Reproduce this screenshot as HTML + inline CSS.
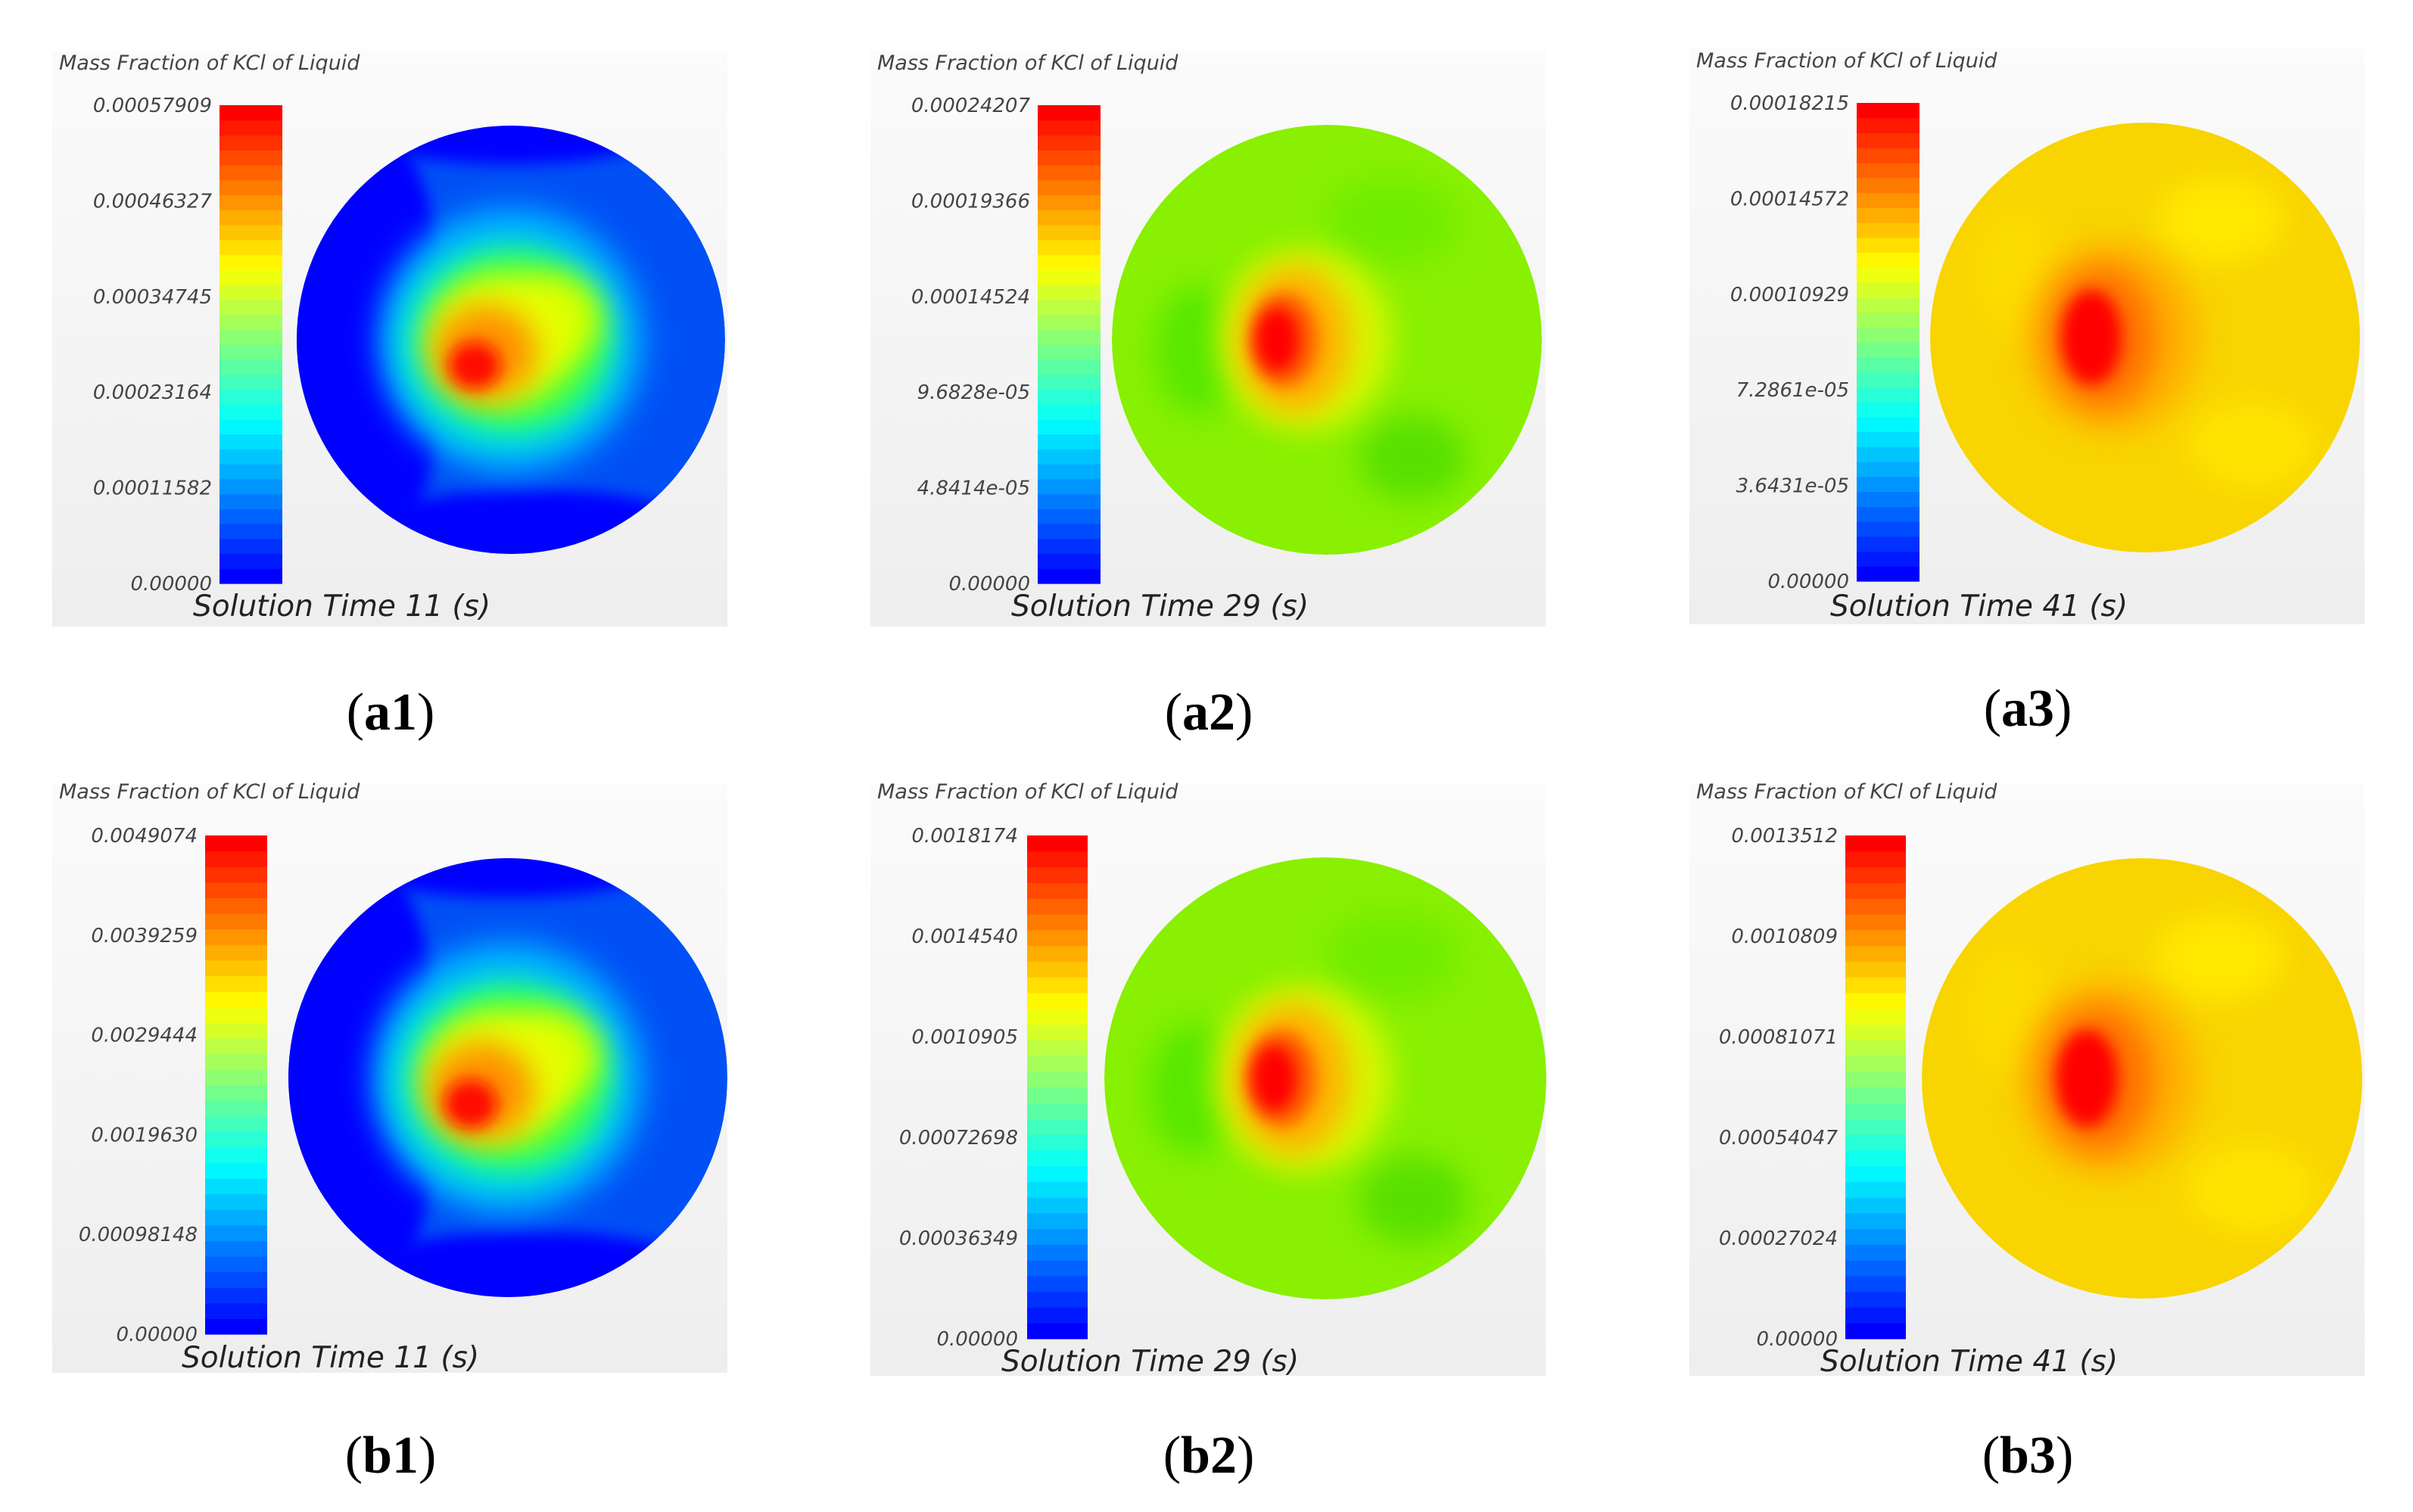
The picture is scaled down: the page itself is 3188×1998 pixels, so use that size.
<!DOCTYPE html>
<html><head><meta charset="utf-8"><style>
html,body{margin:0;padding:0;background:#fff}
body{width:3188px;height:1998px;position:relative;overflow:hidden}
svg{position:absolute;left:0;top:0}
</style></head><body>
<svg id="fig" width="3188" height="1998" viewBox="0 0 3188 1998" xmlns="http://www.w3.org/2000/svg">
<defs>
<linearGradient id="bgg" x1="0" y1="0" x2="0" y2="1"><stop offset="0" stop-color="#fbfbfb"/><stop offset="1" stop-color="#eeeeee"/></linearGradient>
<filter id="bl" x="-50%" y="-50%" width="200%" height="200%"><feGaussianBlur stdDeviation="20"/></filter>
<filter id="bl2" x="-50%" y="-50%" width="200%" height="200%"><feGaussianBlur stdDeviation="10"/></filter>
</defs>
</svg>
<script>
const panelNames=["a1","a2","a3","b1","b2","b3"];
const tickLabels=[
 ["0.00057909","0.00046327","0.00034745","0.00023164","0.00011582","0.00000"],
 ["0.00024207","0.00019366","0.00014524","9.6828e-05","4.8414e-05","0.00000"],
 ["0.00018215","0.00014572","0.00010929","7.2861e-05","3.6431e-05","0.00000"],
 ["0.0049074","0.0039259","0.0029444","0.0019630","0.00098148","0.00000"],
 ["0.0018174","0.0014540","0.0010905","0.00072698","0.00036349","0.00000"],
 ["0.0013512","0.0010809","0.00081071","0.00054047","0.00027024","0.00000"]];
const solutionTimes=[11,29,41,11,29,41];
const fieldType=["blue","green","yellow","blue","green","yellow"];

const NS="http://www.w3.org/2000/svg";
const svg=document.getElementById('fig');
function mk(tag,attrs,parent){const e=document.createElementNS(NS,tag);for(const k in attrs)e.setAttribute(k,attrs[k]);(parent||svg).appendChild(e);return e;}
function jet(t){t=0.125+0.75*t;const r=Math.min(1,Math.max(0,1.5-Math.abs(4*t-3))),g=Math.min(1,Math.max(0,1.5-Math.abs(4*t-2))),b=Math.min(1,Math.max(0,1.5-Math.abs(4*t-1)));return `rgb(${Math.round(r*255)},${Math.round(g*255)},${Math.round(b*255)})`;}
const layers={
 blue:{base:"#0050f5",items:[[-0.75,0,0.45,1.1,"#0000ff","bl2"],[0.1,0.95,0.9,0.25,"#0000ff","bl2"],[0.0,-0.97,0.7,0.15,"#0000ff","bl2"],[0.0,0.0,0.62,0.62,"#00b0ff","bl"],[-0.02,0.02,0.5,0.47,"#00f0d0","bl"],[0.02,0.0,0.42,0.4,"#40ff40","bl"],[0.2,-0.1,0.22,0.2,"#d0ff00","bl"],[-0.05,0.0,0.34,0.3,"#e8ff00","bl"],[-0.12,0.06,0.24,0.22,"#ff9000","bl"],[-0.17,0.12,0.12,0.11,"#ff1000","bl2"]]},
 green:{base:"#88f000",items:[[-0.6,0.05,0.2,0.3,"#58e800","bl"],[0.4,0.55,0.25,0.2,"#58e000","bl"],[0.3,-0.55,0.3,0.2,"#70ec00","bl"],[-0.1,0.0,0.4,0.42,"#d8f800","bl"],[-0.15,0.0,0.26,0.34,"#ffb000","bl"],[-0.2,0.0,0.16,0.22,"#ff6000","bl2"],[-0.23,0.0,0.1,0.15,"#ff0000","bl2"]]},
 yellow:{base:"#f8d400",items:[[0.35,-0.55,0.3,0.2,"#ffe800","bl"],[0.5,0.5,0.3,0.2,"#ffe400","bl"],[-0.6,-0.3,0.2,0.3,"#fcdc00","bl"],[-0.15,0.0,0.4,0.44,"#ffb000","bl"],[-0.2,0.0,0.25,0.33,"#ff7000","bl"],[-0.25,0.0,0.14,0.22,"#ff0000","bl2"]]}
};
const geo=[
 {bx:69,by:67,bw:892,bh:761,cbx:290,cby:139,cbw:83,cbh:632,lx:280,cx:675,cy:449,r:283,ty:92,sy:802,sx:255,lab:940},
 {bx:1150,by:67,bw:892,bh:761,cbx:1371,cby:139,cbw:83,cbh:632,lx:1361,cx:1753,cy:449,r:284,ty:92,sy:802,sx:1336,lab:940},
 {bx:2232,by:64,bw:892,bh:761,cbx:2453,cby:136,cbw:83,cbh:632,lx:2443,cx:2834,cy:446,r:284,ty:89,sy:802,sx:2418,lab:935},
 {bx:69,by:1036,bw:892,bh:778,cbx:271,cby:1104,cbw:82,cbh:659,lx:261,cx:671,cy:1424,r:290,ty:1055,sy:1795,sx:240,lab:1922},
 {bx:1150,by:1036,bw:892,bh:782,cbx:1357,cby:1104,cbw:80,cbh:665,lx:1345,cx:1751,cy:1425,r:292,ty:1055,sy:1800,sx:1323,lab:1922},
 {bx:2232,by:1036,bw:892,bh:782,cbx:2438,cby:1104,cbw:80,cbh:665,lx:2428,cx:2830,cy:1425,r:291,ty:1055,sy:1800,sx:2405,lab:1922}];
panelNames.forEach((p,i)=>{
 const g=geo[i];
 const grp=mk('g',{});
 
 
 const bg=mk('rect',{x:g.bx,y:g.by,width:g.bw,height:g.bh,fill:'url(#bgg)'},grp);
 
 
 const t=mk('text',{x:g.bx+9,y:g.ty,'font-family':'DejaVu Sans, sans-serif','font-style':'italic','font-size':27,fill:'#444'},grp);
 t.textContent='Mass Fraction of KCl of Liquid';
 
 
 const cb=mk('g',{},grp);
 
 
 const N=32;
 for(let k=0;k<N;k++){const h=g.cbh/N;const rc=mk('rect',{x:g.cbx,y:g.cby+g.cbh-(k+1)*h,width:g.cbw,height:h+0.6,fill:jet(k/(N-1))},cb);
  
  }
 tickLabels[i].forEach((s,k)=>{
  const y=g.cby+g.cbh*k/(tickLabels[i].length-1);
  const tx=mk('text',{x:g.lx,y:y+9,'text-anchor':'end','font-family':'DejaVu Sans, sans-serif','font-style':'italic','font-size':26,fill:'#444'},grp);
  tx.textContent=s;
  
  
 });
 const cid='clip'+p;
 const cp=mk('clipPath',{id:cid},svg.querySelector('defs'));
 mk('circle',{cx:g.cx,cy:g.cy,r:g.r},cp);
 const fld=mk('g',{'clip-path':`url(#${cid})`},grp);
 
 
 const L=layers[fieldType[i]];
 mk('circle',{cx:g.cx,cy:g.cy,r:g.r,fill:L.base},fld);
 L.items.forEach(it=>{
  const e=mk('ellipse',{cx:g.cx+it[0]*g.r,cy:g.cy+it[1]*g.r,rx:it[2]*g.r,ry:it[3]*g.r,fill:it[4],filter:`url(#${it[5]})`},fld);
  
  
 });
 const st=mk('text',{x:g.sx,y:g.sy+12,'font-family':'DejaVu Sans, sans-serif','font-style':'italic','font-size':39,fill:'#222'},grp);
 st.textContent='Solution Time '+solutionTimes[i]+' (s)';
 
 
 const lb=mk('text',{x:g.bx+g.bw/2+1,y:g.lab+24,'text-anchor':'middle','font-family':'Liberation Serif, serif','font-size':70,fill:'#000'},grp);
 lb.innerHTML='(<tspan font-weight="bold">'+p+'</tspan>)';
 
 
});
</script>
</body></html>
